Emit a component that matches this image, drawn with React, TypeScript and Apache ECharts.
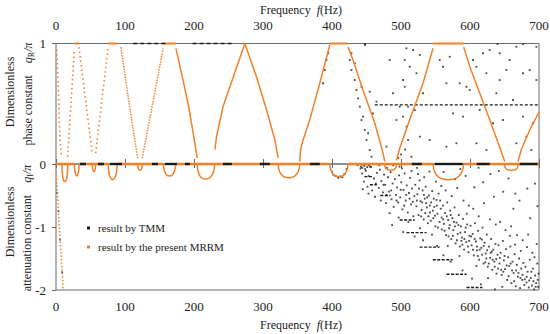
import { useEffect, useRef } from 'react';
import * as echarts from 'echarts';

const FONT = 'Liberation Serif';
const ORANGE = '#F28028';
const BLACK = '#1a1a1a';
const AXIS = '#6a6a6a';

// ---------- tick labels ----------
const freqTicks = [0, 100, 200, 300, 400, 500, 600, 700];
const phaseTicks = [1, 0];
const attTicks = [-1, -2];

// ---------- MRRM (orange): phase constant branches  [f (Hz), qR/pi] ----------
const phaseV1Down = [[1, 0.95], [2.9, 0.7], [4.3, 0.45], [5.8, 0.2], [8, 0.06]];
const phaseV1Up = [[16.9, 0.06], [21.7, 0.5], [26.5, 0.95]];
const phaseV2Down = [[33.3, 0.97], [43, 0.52], [52.6, 0.09]];
const phaseV2Up = [[57.5, 0.09], [66.5, 0.53], [75.7, 0.97]];
const phaseV3Down = [[94.1, 0.97], [106, 0.5], [118.3, 0.05]];
const phaseV3Up = [[125, 0.05], [140, 0.5], [155.4, 0.96]];
const phaseV4Down = [[173.8, 0.96], [182, 0.75], [191.5, 0.5], [199, 0.25], [204.6, 0.05]];
const phaseV5Up = [[230.3, 0.12], [232.7, 0.23], [242.3, 0.48], [256.8, 0.72], [273.7, 1.0]];
const phaseV5Down = [[273.7, 1.0], [290.7, 0.72], [305.1, 0.45], [317.2, 0.2], [321.9, 0.05]];
const phaseV6Up = [[353.4, 0.02], [354.4, 0.12], [358.1, 0.2], [367.9, 0.37], [382.3, 0.67], [396.8, 0.99]];
const phaseV7Down = [[423.3, 0.97], [430.6, 0.86], [445.1, 0.61], [462, 0.34], [474, 0.09], [476.5, 0.02]];
const phaseV8Up = [[493.4, 0.03], [498.2, 0.13], [512.7, 0.37], [531.9, 0.67], [546.4, 0.96]];
const phaseV9Down = [[590.9, 0.97], [599.6, 0.81], [614, 0.59], [628.5, 0.37], [643, 0.14], [650.3, 0.02]];
const phaseV10Up = [[669.5, 0.02], [674.4, 0.12], [686.4, 0.28], [700, 0.43]];

const phaseDottedBranches = [phaseV1Down, phaseV1Up, phaseV2Down, phaseV2Up];
const phaseFineBranches = [phaseV3Down, phaseV3Up];
const phaseSolidBranches = [phaseV4Down, phaseV5Up, phaseV5Down, phaseV6Up, phaseV7Down, phaseV8Up, phaseV9Down, phaseV10Up];

// stop bands where qR/pi = 1  [f start, f end]
const topStopBands = [[26.5, 33.5], [75.7, 88.7], [155.4, 173.8], [396.8, 423.3], [546.4, 590.9]];
// pass bands drawn on the zero line
const zeroBands = [[0, 26.5], [33.5, 75.7], [88.7, 155.4], [173.8, 396.8], [423.3, 546.4], [590.9, 700]];

// ---------- MRRM (orange): attenuation constant  [f (Hz), qI/pi] ----------
const attEvanescent = [[0.3, -0.12], [1.9, -0.46], [4.8, -1.0], [7.7, -1.5], [10.6, -2.0]];
const attArc1 = [[8.5, 0], [9.5, -0.18], [11, -0.26], [13, -0.28], [15, -0.25], [16.5, -0.15], [17, 0]];
const attArc2 = [[26.5, 0], [27.5, -0.12], [29, -0.18], [30, -0.19], [31.5, -0.17], [33, -0.1], [33.5, 0]];
const attArc3 = [[52.6, 0], [53.3, -0.08], [55, -0.12], [56.8, -0.08], [57.5, 0]];
const attArc4 = [[75.7, 0], [76.5, -0.12], [78.5, -0.21], [82, -0.25], [85.5, -0.21], [87.8, -0.12], [88.7, 0]];
const attArc5 = [[118.3, 0], [119.2, -0.07], [121.7, -0.1], [124.2, -0.07], [125, 0]];
const attArc6 = [[155.4, 0], [157, -0.1], [160, -0.17], [164.6, -0.19], [169, -0.17], [172, -0.1], [173.8, 0]];
const attArc7 = [[204.6, 0], [206, -0.12], [210, -0.21], [217, -0.24], [224, -0.21], [228.5, -0.12], [230, 0]];
const attArc8 = [[321.9, 0], [324, -0.12], [330, -0.2], [337.5, -0.22], [345, -0.2], [351, -0.12], [353.4, 0]];
const attArc9 = [[396.8, 0], [398.5, -0.1], [403, -0.18], [410, -0.2], [417, -0.18], [421.5, -0.1], [423.3, 0]];
const attArc10 = [[476.5, 0], [478, -0.07], [485, -0.1], [492, -0.07], [493.4, 0]];
const attArc11 = [[546.4, 0], [549, -0.13], [556, -0.22], [568.6, -0.25], [581, -0.22], [588, -0.13], [590.9, 0]];
const attArc12 = [[650.3, 0], [651.5, -0.07], [660, -0.1], [668.3, -0.07], [669.5, 0]];
const attArcs = [attArc1, attArc2, attArc3, attArc4, attArc5, attArc6, attArc7, attArc8, attArc9, attArc10, attArc11, attArc12];

// ---------- TMM (black) ----------
const tmmZeroDashes = [[34.8, 43.5], [60.8, 69.5], [78.2, 95.6], [139, 147.7], [157.9, 175.2], [186.8, 194], [241.9, 254.9], [295.4, 309.9], [367.9, 382.3], [515.6, 530.1], [548.9, 589.4], [609.7, 628.5], [672, 698]];
const tmmOneDashes = [[112, 160], [198, 256]];
const tmmHalfLine = [[462, 0.49], [700, 0.49]];
// horizontal runs in attenuation [f start, f end, qI/pi]
const tmmAttSteps = [[447, 459, -0.2], [455, 465, -0.33], [470, 485, -0.5], [498, 520, -0.89], [508, 537, -1.09], [527, 556, -1.32], [546, 575, -1.52], [566, 595, -1.75], [595, 618, -1.96]];

const tmmPhaseDots = [
  [425.8, 0.863], [428.2, 0.78], [433, 0.697], [435.5, 0.614], [440.3, 0.476], [442.7, 0.365], [447.5, 0.282], [450, 0.199],
  [454.7, 0.116], [457.2, 0.06], [454.7, 0.6], [464.4, 0.517], [459.5, 0.42], [478.9, 0.144], [428.2, 0.919], [447.5, 0.988],
  [387.1, 0.67], [389.6, 0.78], [392, 0.863], [394.4, 0.919], [437.8, 0.545], [445, 0.393], [452.3, 0.255], [442.7, 0.641],
  [433, 0.836], [488.5, 0.587], [498.2, 0.476], [503, 0.697], [508, 0.31], [493.4, 0.365], [505.4, 0.863], [510.2, 0.2],
  [483.7, 0.863], [500, 0.08], [506, 0.12], [496, 0.05],
  [507.9, 0.96], [517.5, 0.946], [527.2, 0.905], [512.7, 0.807], [522.4, 0.753], [505.4, 0.641], [532, 0.587], [510.2, 0.476],
  [519.9, 0.448], [503, 0.393], [527.2, 0.227], [541.6, 0.2], [515.1, 0.06], [556.1, 0.863], [560.9, 0.807], [570.6, 0.89],
  [565.8, 0.67], [585.1, 0.67], [594.8, 0.641], [599.6, 0.614], [575.4, 0.42], [589.9, 0.393], [565.8, 0.144], [580.3, 0.172],
  [604.4, 0.863], [609.3, 0.807], [618.8, 0.919], [628.5, 0.946], [623.8, 0.753], [643, 0.697], [652.7, 0.78], [638.2, 0.587],
  [633.3, 0.338], [647.8, 0.365], [623.8, 0.116], [667.2, 0.973], [676.8, 0.753], [686.5, 0.78], [696.2, 0.697], [691.2, 0.338],
  [681.7, 0.227], [667.2, 0.172], [688.9, 0.116], [662.3, 0.531], [676.8, 0.393], [696.2, 0.973], [643, 0.919], [614, 0.448],
  [609.3, 0.172], [657.5, 0.863], [448, 0.995], [640, 0.995], [677, 0.995]
];

const tmmAttNear = [
  [437, -0.02], [440, 0.01], [442, -0.04], [445, -0.01], [447, -0.03], [449, 0.02], [451, -0.05], [453, -0.02], [455, -0.04], [444, -0.06], [448, -0.08],
  [400, -0.12], [405, -0.19], [412, -0.2], [418, -0.16], [402, -0.17], [415, -0.21], [409, -0.22], [421, -0.08],
  [1.9, -0.46], [3.5, -0.75], [6, -1.2], [9, -1.72]
];

const tmmAttCloud = [
  [441.3, -0.07], [443.8, -0.15], [446.2, -0.28], [448.9, -0.11], [451.4, -0.36], [453.1, -0.19], [456.7, -0.05], [458.2, -0.42],
  [460.9, -0.23], [463.5, -0.31], [465.2, -0.14], [467.8, -0.38], [469.3, -0.09], [471.6, -0.27], [473.9, -0.45], [475.4, -0.17],
  [477.1, -0.33], [479.6, -0.06], [444.5, -0.4], [452.8, -0.47], [462.3, -0.52], [470.7, -0.58], [478.2, -0.62],
  [481.2, -0.21], [482.7, -0.44], [484.9, -0.13], [486.3, -0.56], [487.8, -0.31], [489.4, -0.68], [491.1, -0.24], [492.6, -0.49],
  [494.2, -0.37], [495.9, -0.61], [497.3, -0.18], [498.8, -0.53], [500.4, -0.29], [502.1, -0.72], [503.7, -0.41], [505.2, -0.15],
  [506.9, -0.58], [508.3, -0.34], [509.8, -0.77], [511.5, -0.46], [513.1, -0.22], [514.6, -0.64], [516.2, -0.39], [517.9, -0.83],
  [519.4, -0.51], [483.5, -0.78], [496.6, -0.85], [510.7, -0.92], [488.6, -0.02], [501.5, -0.07], [515.3, -0.11],
  [520.8, -0.33], [522.3, -0.67], [523.7, -0.48], [525.4, -0.81], [526.9, -0.26], [528.2, -0.59], [529.8, -0.73], [531.3, -0.42],
  [532.9, -0.88], [534.4, -0.55], [535.8, -0.36], [537.5, -0.69], [538.9, -0.94], [540.6, -0.5], [542.1, -0.77], [543.7, -0.61],
  [545.2, -0.43], [546.8, -0.86], [548.3, -0.68], [549.9, -0.99], [551.4, -0.57], [552.8, -0.79], [554.5, -0.47], [555.9, -0.92],
  [557.6, -0.71], [559.1, -1.04], [524.6, -0.16], [533.6, -0.21], [541.3, -0.12], [550.7, -0.28], [558.4, -0.35], [527.7, -1.02],
  [544.9, -1.12], [536.2, -0.62], [547.4, -0.55], [539.7, -0.83],
  [560.7, -0.66], [562.2, -0.95], [563.8, -0.78], [565.3, -1.13], [566.9, -0.61], [568.4, -0.89], [569.7, -1.02], [571.3, -0.74],
  [572.8, -1.19], [574.4, -0.86], [575.9, -1.05], [577.6, -0.69], [579.1, -1.26], [580.5, -0.93], [582.2, -1.11], [583.7, -0.81],
  [585.3, -1.31], [586.8, -0.99], [588.4, -1.17], [589.9, -0.87], [591.4, -1.36], [592.9, -1.08], [594.6, -1.24], [596.1, -0.96],
  [597.7, -1.4], [599.2, -1.14], [564.6, -0.42], [573.5, -0.51], [581.4, -0.38], [590.6, -0.58], [598.3, -0.66], [567.8, -1.3],
  [584.7, -1.46], [576.8, -0.92], [587.5, -1.22], [595.3, -0.79],
  [600.8, -0.98], [602.4, -1.29], [603.9, -1.11], [605.5, -1.45], [607.1, -0.94], [608.6, -1.23], [610.2, -1.37], [611.8, -1.06],
  [613.3, -1.52], [614.9, -1.18], [616.4, -1.33], [618.1, -1.01], [619.6, -1.58], [621.2, -1.25], [622.7, -1.42], [624.3, -1.12],
  [625.8, -1.63], [627.5, -1.31], [629.1, -1.49], [630.6, -1.19], [632.2, -1.68], [633.8, -1.36], [635.3, -1.55], [636.9, -1.27],
  [638.4, -1.74], [639.9, -1.44], [604.7, -0.71], [612.6, -0.83], [620.3, -0.62], [628.9, -0.88], [637.4, -0.96], [609.4, -1.62],
  [626.1, -1.81], [617.2, -1.2], [631.7, -1.39], [623.6, -1.5],
  [641.3, -1.29], [642.8, -1.58], [644.4, -1.41], [645.9, -1.76], [647.6, -1.22], [649.1, -1.53], [650.7, -1.67], [652.2, -1.35],
  [653.8, -1.84], [655.3, -1.48], [656.9, -1.62], [658.5, -1.31], [660.1, -1.89], [661.6, -1.55], [663.2, -1.73], [664.7, -1.43],
  [666.3, -1.94], [667.9, -1.6], [669.4, -1.79], [671.1, -1.5], [672.6, -1.97], [674.2, -1.66], [675.7, -1.84], [677.3, -1.57],
  [678.8, -1.92], [643.7, -0.92], [651.4, -1.05], [659.6, -0.99], [668.2, -1.13], [676.4, -1.21], [646.8, -1.95], [657.7, -1.14],
  [665.4, -1.28], [673.6, -1.38],
  [680.4, -1.63], [681.9, -1.88], [683.5, -1.71], [685.1, -1.96], [686.6, -1.52], [688.2, -1.81], [689.7, -1.93], [691.3, -1.66],
  [692.8, -1.99], [694.4, -1.77], [695.9, -1.89], [697.5, -1.58], [698.9, -1.95], [682.6, -1.32], [690.4, -1.41], [696.7, -1.27],
  [684.3, -1.12], [693.5, -1.48], [699.2, -1.74]
];

const tmmAttCore = [
  [522.9, -0.58], [526.1, -0.39], [529.1, -0.83], [530.7, -0.61], [533.2, -0.49], [535.1, -0.78], [537.9, -0.53], [541.8, -0.66],
  [543.1, -0.9], [546.1, -0.74], [549.2, -0.82], [551.9, -0.66], [553.6, -1.01], [556.8, -0.58], [558.9, -0.85], [561.2, -0.88],
  [563.1, -1.06], [566.2, -0.83], [568.9, -1.15], [570.6, -0.97], [572.1, -0.81], [575.2, -1.14], [578.3, -0.99], [581.1, -1.21],
  [583.2, -0.97], [586.1, -1.09], [588.9, -1.28], [591.9, -1.19], [593.8, -1.01], [596.9, -1.31], [598.8, -1.22], [601.7, -1.15],
  [604.2, -1.36], [606.8, -1.19], [609.9, -1.31], [611.3, -1.46], [614.1, -1.36], [617.7, -1.44], [619.9, -1.3], [622.1, -1.56],
  [624.9, -1.37], [627.1, -1.58], [629.8, -1.41], [632.9, -1.52], [635.8, -1.63], [638.1, -1.51], [640.6, -1.66], [643.2, -1.49],
  [645.1, -1.68], [648.3, -1.71], [650.1, -1.46], [653.1, -1.61], [655.9, -1.78], [658.9, -1.58], [661.1, -1.69], [663.9, -1.86],
  [666.9, -1.69], [670.2, -1.73], [673.1, -1.81], [676.1, -1.76], [679.4, -1.83], [682.1, -1.79], [685.7, -1.85], [688.9, -1.71],
  [691.9, -1.86], [695.2, -1.95], [698.1, -1.84], [507.6, -0.49], [512.4, -0.55], [517.1, -0.6], [504.5, -0.66], [499.6, -0.41],
  [493.5, -0.58], [485.8, -0.42], [479.1, -0.49], [474.6, -0.33]
];

const tmmAttSparse = [
  [468.5, -0.02], [497.9, -0.04], [523.3, -0.06], [561.8, -0.13], [578.6, -0.24], [593.7, -0.19], [606.3, -0.37], [619.1, -0.29],
  [634.6, -0.52], [648.2, -0.44], [662.9, -0.71], [671.7, -0.58], [687.3, -0.86], [697.8, -0.67], [655.8, -0.23], [641.7, -0.11],
  [683.1, -0.39], [612.4, -0.06], [585.9, -0.08], [629.7, -0.16], [694.1, -0.31], [665.8, -0.47],
  [487.1, -0.97], [503.2, -1.08], [531.9, -1.21], [552.3, -1.3], [571.9, -1.55], [589.1, -1.69], [602.9, -1.82], [615.7, -1.91],
  [636.1, -1.99], [519.8, -1.15], [561.4, -1.45]
];

const lineS = (data: any[], g: number, color: string, width: number, type: any, z: number) => ({
  type: 'line',
  xAxisIndex: g,
  yAxisIndex: g,
  data,
  showSymbol: false,
  symbol: 'none',
  silent: true,
  clip: false,
  z,
  lineStyle: { color, width, type, cap: 'butt' }
});

export default function App() {
  const ref = useRef<HTMLDivElement>(null);
  useEffect(() => {
    if (!ref.current) return;
    document.body.style.margin = '0';
    const chart = echarts.init(ref.current, undefined, { renderer: 'svg' });
    const series: any[] = [];
    const dots = (data: any[], g: number) => ({ type: 'scatter', xAxisIndex: g, yAxisIndex: g, data, symbol: 'rect', symbolSize: 1.8, itemStyle: { color: BLACK }, silent: true, z: 1 });

    // TMM scatter (underneath)
    series.push(dots(tmmPhaseDots, 0));
    series.push(dots(tmmAttNear, 1));
    series.push(dots(tmmAttCloud, 1));
    series.push(dots(tmmAttCore, 1));
    series.push(dots(tmmAttSparse, 1));
    series.push(lineS(tmmHalfLine, 0, BLACK, 1.3, [3, 2], 1));
    tmmAttSteps.forEach(([a, b, v]) => series.push(lineS([[a, v], [b, v]], 1, BLACK, 1.4, [3, 1.5], 1)));

    // MRRM curves
    phaseDottedBranches.forEach((d) => series.push(lineS(d, 0, ORANGE, 1.6, [1.5, 3], 3)));
    phaseFineBranches.forEach((d) => series.push(lineS(d, 0, ORANGE, 1.5, [1.5, 1.2], 3)));
    phaseSolidBranches.forEach((d) => series.push(lineS(d, 0, ORANGE, 1.5, 'solid', 3)));
    topStopBands.forEach(([a, b]) => series.push(lineS([[a, 1], [b, 1]], 0, ORANGE, 2, 'solid', 3)));
    zeroBands.forEach(([a, b]) => series.push(lineS([[a, 0], [b, 0]], 1, ORANGE, 2.6, 'solid', 3)));
    attArcs.forEach((d) => series.push({ ...lineS(d, 1, ORANGE, 1.5, 'solid', 3), smooth: 0.4 }));
    series.push(lineS(attEvanescent, 1, ORANGE, 1.5, [1.5, 2], 3));

    // TMM on zero / one lines (on top)
    tmmZeroDashes.forEach(([a, b]) => series.push(lineS([[a, 0], [b, 0]], 1, BLACK, 2.4, 'solid', 4)));
    tmmOneDashes.forEach(([a, b]) => series.push(lineS([[a, 1], [b, 1]], 0, BLACK, 1.5, [4, 3], 4)));

    const gridCommon = { left: 56, right: 11, show: true, borderColor: AXIS, borderWidth: 1, backgroundColor: 'transparent' };
    const txt = (x: number, y: number, text: string, extra: any = {}, rot = 0) => ({
      type: 'text',
      x,
      y,
      rotation: rot,
      silent: true,
      style: {
        text,
        font: `12px ${FONT}`,
        fill: '#222',
        align: 'center',
        verticalAlign: 'middle',
        textAlign: 'center',
        textVerticalAlign: 'middle',
        ...extra
      }
    });
    const rich = {
      i: { fontFamily: FONT, fontSize: 12, fontStyle: 'italic', fill: '#222', color: '#222' },
      s: { fontFamily: FONT, fontSize: 8, fill: '#222', color: '#222', verticalAlign: 'bottom', padding: [6, 0, 0, 0] },
      n: { fontFamily: FONT, fontSize: 12, fill: '#222', color: '#222' }
    };
    const tick = { show: true, lineStyle: { color: AXIS } };

    chart.setOption({
      animation: false,
      grid: [
        { ...gridCommon, top: 43.5, height: 120.5 },
        { ...gridCommon, top: 164, height: 126 }
      ],
      xAxis: [
        { type: 'value', gridIndex: 0, position: 'top', min: 0, max: 700, interval: 100, axisLine: { show: false }, axisTick: { ...tick, inside: true, length: 4 }, splitLine: { show: false }, axisLabel: { show: false } },
        { type: 'value', gridIndex: 1, position: 'bottom', min: 0, max: 700, interval: 100, axisLine: { show: false }, axisTick: { ...tick, inside: true, length: 5 }, splitLine: { show: false }, axisLabel: { show: false } }
      ],
      yAxis: [
        { type: 'value', gridIndex: 0, min: 0, max: 1, interval: 1, axisLine: { show: false }, axisTick: { ...tick, inside: false, length: 4 }, splitLine: { show: false }, axisLabel: { show: false } },
        { type: 'value', gridIndex: 1, min: -2, max: 0, interval: 1, axisLine: { show: false }, axisTick: { ...tick, inside: false, length: 4 }, splitLine: { show: false }, axisLabel: { show: false } }
      ],
      series
    });

    // tick labels placed through the axes' own scales
    const tickFont = { font: `13px ${FONT}` };
    const labels: any[] = [];
    freqTicks.forEach((v) => {
      const x = chart.convertToPixel({ xAxisIndex: 0 }, v) as number;
      labels.push(txt(x, 25, String(v), tickFont));
      const xb = chart.convertToPixel({ xAxisIndex: 1 }, v) as number;
      labels.push(txt(xb, 306.5, String(v), tickFont));
    });
    phaseTicks.forEach((v) => {
      const y = chart.convertToPixel({ yAxisIndex: 0 }, v) as number;
      labels.push(txt(46, y, String(v), { ...tickFont, align: 'right', textAlign: 'right' }));
    });
    attTicks.forEach((v) => {
      const y = chart.convertToPixel({ yAxisIndex: 1 }, v) as number;
      labels.push(txt(46, y, '-' + Math.abs(v), { ...tickFont, align: 'right', textAlign: 'right' }));
    });

    chart.setOption({
      graphic: [
        ...labels,
        txt(342, 10, '{n|Frequency}  {i|f}{n|(Hz)}', { rich, align: 'right', textAlign: 'right' }),
        txt(342, 325, '{n|Frequency}  {i|f}{n|(Hz)}', { rich, align: 'right', textAlign: 'right' }),
        txt(10, 92, 'Dimensionless', {}, Math.PI / 2),
        txt(28, 94, '{n|phase constant}    {i|q}{s|R}{i|/π}', { rich }, Math.PI / 2),
        txt(10, 222, 'Dimensionless', {}, Math.PI / 2),
        txt(27, 228, '{n|attenuation constant}    {i|q}{s|I}{i|/π}', { rich }, Math.PI / 2),
        { type: 'rect', shape: { x: 87, y: 226.5, width: 3, height: 3 }, style: { fill: BLACK }, silent: true },
        txt(98, 228, 'result by TMM', { font: `11px ${FONT}`, align: 'left', textAlign: 'left' }),
        { type: 'rect', shape: { x: 87, y: 245.5, width: 3, height: 3 }, style: { fill: ORANGE }, silent: true },
        txt(98, 247, 'result by the present MRRM', { font: `11px ${FONT}`, align: 'left', textAlign: 'left' })
      ]
    });
    return () => chart.dispose();
  }, []);
  return <div ref={ref} style={{ position: 'absolute', left: 0, top: 0, width: 550, height: 334 }} />;
}
